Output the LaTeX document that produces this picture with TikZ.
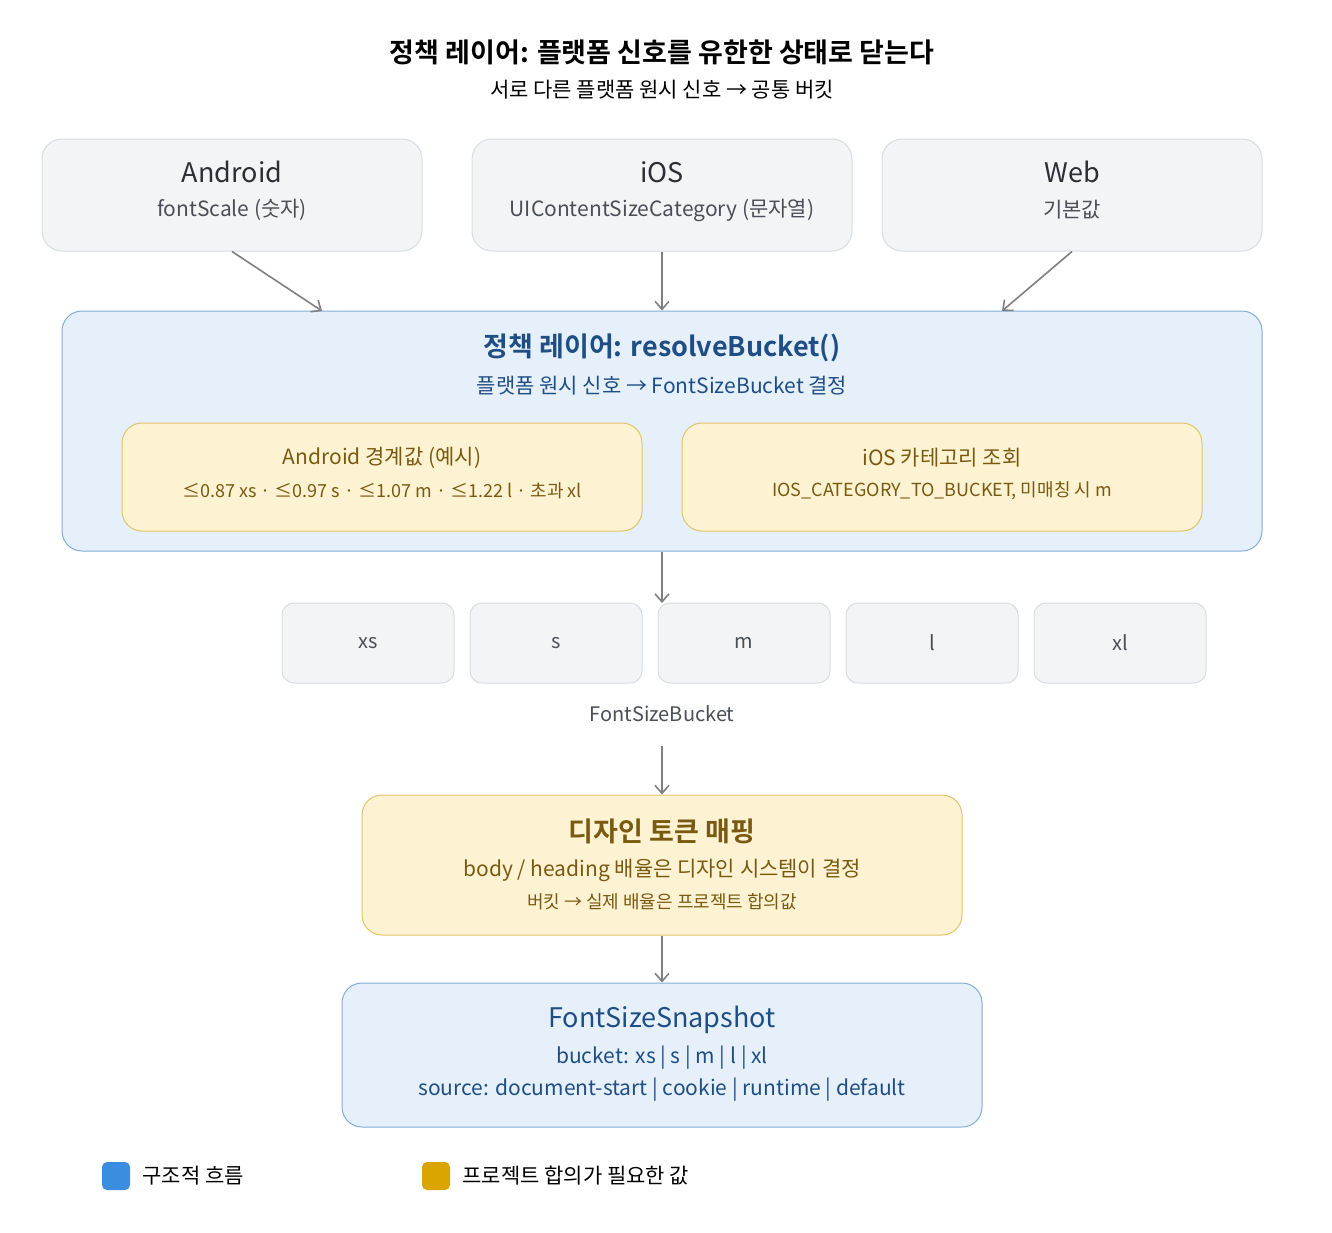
\documentclass[tikz,border=0pt]{standalone}
\usepackage{fontspec}
\setmainfont{Noto Sans CJK KR}
\newfontfamily\boldcjk{Noto Sans CJK KR Bold}
\usetikzlibrary{calc}
\definecolor{grayfill}{HTML}{F3F4F6}
\definecolor{grayline}{HTML}{D9DDE2}
\definecolor{bluefill}{HTML}{E6F0FB}
\definecolor{blueline}{HTML}{84ACD8}
\definecolor{bluetext}{HTML}{1F4E85}
\definecolor{yelfill}{HTML}{FDF3D3}
\definecolor{yelline}{HTML}{E3C46C}
\definecolor{yeltext}{HTML}{7A5A10}
\definecolor{darktext}{HTML}{2B2F36}
\definecolor{midtext}{HTML}{4A4F57}
\definecolor{arrowgray}{HTML}{808080}
\definecolor{legblue}{HTML}{3B8DE0}
\definecolor{legyel}{HTML}{DBA500}
\tikzset{every picture/.style={line width=1pt}}
\tikzset{
  box/.style={draw, rounded corners=20, inner sep=0},
  platform/.style={box, fill=grayfill, draw=grayline},
  bucket/.style={box, rounded corners=12, fill=grayfill, draw=grayline, font=\fontsize{20}{24}\selectfont, text=midtext},
  policy/.style={box, fill=bluefill, draw=blueline},
  agree/.style={box, fill=yelfill, draw=yelline},
  flow/.style={draw=arrowgray, line width=1.6pt, -{Straight Barb[length=8pt,width=14pt]}},
  txt/.style={inner sep=0},
}
\usetikzlibrary{arrows.meta}
\begin{document}
\begin{tikzpicture}[x=1pt,y=1pt,yscale=-1]
\useasboundingbox[fill=white] (0,0) rectangle (1332,1232);

% title
\node[txt, font=\boldcjk\fontsize{27}{32}\selectfont, text=black] (title) at (662,52) {정책 레이어: 플랫폼 신호를 유한한 상태로 닫는다};
\node[txt, font=\fontsize{21}{25}\selectfont, text=black] (subtitle) at (662,90) {서로 다른 플랫폼 원시 신호 → 공통 버킷};

% platforms
\node[platform, minimum width=380, minimum height=112] (android) at (232,195) {};
\node[platform, minimum width=380, minimum height=112] (ios) at (662,195) {};
\node[platform, minimum width=380, minimum height=112] (web) at (1072,195) {};
\foreach \n/\t/\s in {android/Android/fontScale (숫자), ios/iOS/UIContentSizeCategory (문자열), web/Web/기본값} {
  \node[txt, font=\fontsize{27}{32}\selectfont, text=darktext] at ($(\n)+(0,-23)$) {\t};
  \node[txt, font=\fontsize{21}{25}\selectfont, text=midtext] at ($(\n)+(0,15)$) {\s};
}

% policy layer
\node[policy, minimum width=1200, minimum height=240] (policy) at (662,431) {};
\node[txt, font=\boldcjk\fontsize{27}{32}\selectfont, text=bluetext] at (662,348) {정책 레이어: resolveBucket()};
\node[txt, font=\fontsize{21}{25}\selectfont, text=bluetext] at (662,386) {플랫폼 원시 신호 → FontSizeBucket 결정};
\node[agree, minimum width=520, minimum height=108] (andlimit) at (382,477) {};
\node[agree, minimum width=520, minimum height=108] (ioslookup) at (942,477) {};
\node[txt, font=\fontsize{21}{25}\selectfont, text=yeltext] at (382,458) {Android 경계값 (예시)};
\node[txt, font=\fontsize{18}{22}\selectfont, text=yeltext] at (382,491) {≤0.87 xs · ≤0.97 s · ≤1.07 m · ≤1.22 l · 초과 xl};
\node[txt, font=\fontsize{21}{25}\selectfont, text=yeltext] at (942,458) {iOS 카테고리 조회};
\node[txt, font=\fontsize{18}{22}\selectfont, text=yeltext] at (942,491) {IOS\_CATEGORY\_TO\_BUCKET, 미매칭 시 m};

\coordinate (andin) at (322,311);
\coordinate (webin) at (1002,311);
\draw[flow] (android.south) -- (andin);
\draw[flow] (ios.south) -- (ios.south |- policy.north);
\draw[flow] (web.south) -- (webin);

% buckets
\foreach \b/\x in {xs/368, s/556, m/744, l/932, xl/1120}
  \node[bucket, minimum width=172, minimum height=80] (b\b) at (\x,643) {\b};
\node[txt, font=\fontsize{20}{24}\selectfont, text=midtext] (bucketlabel) at (662,714) {FontSizeBucket};
\draw[flow] (policy.south) -- (662,603);

% design tokens
\node[agree, minimum width=600, minimum height=140] (tokens) at (662,865) {};
\node[txt, font=\boldcjk\fontsize{27}{32}\selectfont, text=yeltext] at (662,831) {디자인 토큰 매핑};
\node[txt, font=\fontsize{21}{25}\selectfont, text=yeltext] at (662,870) {body / heading 배율은 디자인 시스템이 결정};
\node[txt, font=\fontsize{18}{22}\selectfont, text=yeltext] at (662,902) {버킷 → 실제 배율은 프로젝트 합의값};
\coordinate (bucketout) at (662,746);
\draw[flow] (bucketout) -- (tokens.north);

% snapshot
\node[policy, minimum width=640, minimum height=144] (snapshot) at (662,1055) {};
\node[txt, font=\fontsize{27}{32}\selectfont, text=bluetext] at (662,1020) {FontSizeSnapshot};
\node[txt, font=\fontsize{21}{25}\selectfont, text=bluetext] at (662,1058) {bucket: xs | s | m | l | xl};
\node[txt, font=\fontsize{21}{25}\selectfont, text=bluetext] at (662,1090) {source: document-start | cookie | runtime | default};
\draw[flow] (tokens.south) -- (snapshot.north);

% legend
\node[fill=legblue, rounded corners=5, minimum size=28, inner sep=0] (legstruct) at (116,1176) {};
\node[txt, anchor=west, font=\fontsize{21}{25}\selectfont, text=black] at (142,1176) {구조적 흐름};
\node[fill=legyel, rounded corners=5, minimum size=28, inner sep=0] (legagree) at (436,1176) {};
\node[txt, anchor=west, font=\fontsize{21}{25}\selectfont, text=black] at (462,1176) {프로젝트 합의가 필요한 값};
\end{tikzpicture}
\end{document}
